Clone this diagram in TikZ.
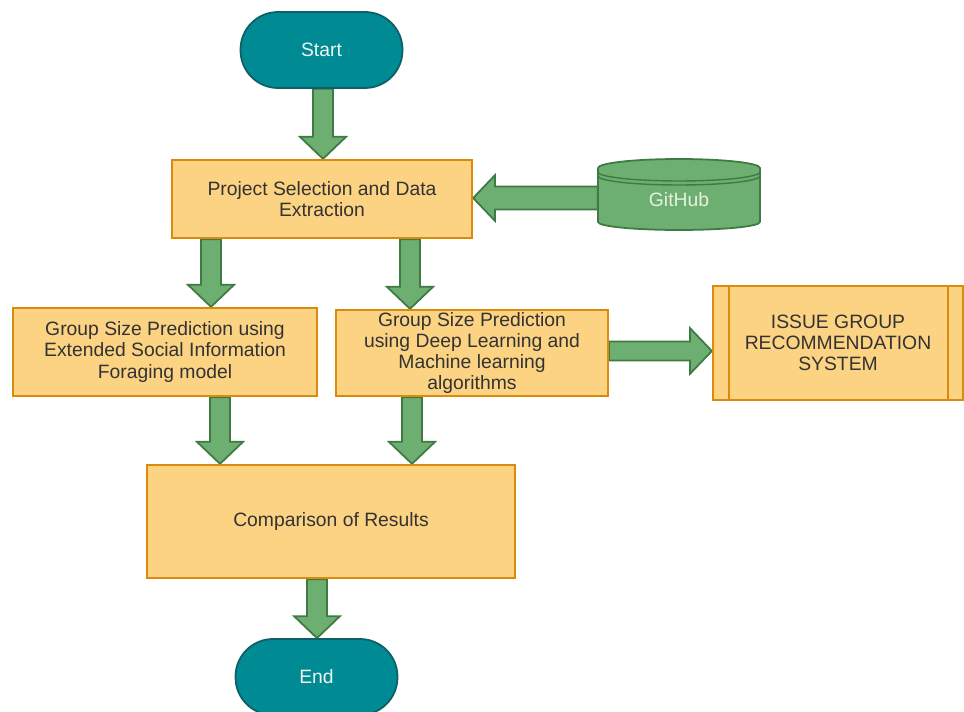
\documentclass[tikz,border=0pt]{standalone}
\usepackage{fontspec}
\setmainfont{Liberation Sans}
\usetikzlibrary{calc}
\definecolor{termfill}{HTML}{008A94}
\definecolor{termline}{HTML}{0E5F66}
\definecolor{termtext}{HTML}{F2F6F6}
\definecolor{boxfill}{HTML}{FCD283}
\definecolor{boxline}{HTML}{DA8B0C}
\definecolor{boxtext}{HTML}{333333}
\definecolor{arfill}{HTML}{6DAE71}
\definecolor{arline}{HTML}{3E7B44}
\definecolor{gittext}{HTML}{E8F1E0}
\pgfdeclarelayer{bg}
\pgfsetlayers{bg,main}
\def\arSW{0.2cm}
\def\arHW{0.46cm}
\def\arHL{0.44cm}
% vertical fat arrow: x (px), from anchor, to anchor (pointing down)
\newcommand\fatV[3]{%
  \draw[fatarrow] let \p1=(#2), \p2=(#3), \p3=(#1,0) in
    (\x3-\arSW,\y1) -- (\x3-\arSW,\y2+\arHL) -- (\x3-\arHW,\y2+\arHL) --
    (\x3,\y2) -- (\x3+\arHW,\y2+\arHL) -- (\x3+\arSW,\y2+\arHL) --
    (\x3+\arSW,\y1) -- cycle;}
% horizontal fat arrow: y (px), from anchor, to anchor, sign (+ points left, - points right)
\newcommand\fatH[5]{%
  \draw[fatarrow] let \p1=(#2), \p2=(#3), \p3=(0,#1) in
    (\x1,\y3+#5) -- (\x2#4\arHL,\y3+#5) -- (\x2#4\arHL,\y3+\arHW) --
    (\x2,\y3) -- (\x2#4\arHL,\y3-\arHW) -- (\x2#4\arHL,\y3-#5) --
    (\x1,\y3-#5) -- cycle;}
\begin{document}
\begin{tikzpicture}[x=0.02cm,y=-0.02cm,
  txt/.style={font=\fontsize{11}{12}\selectfont, align=center},
  box/.style={txt, draw=boxline, fill=boxfill, line width=1.3pt, text=boxtext, inner sep=0pt},
  term/.style={txt, draw=termline, fill=termfill, line width=1pt, rounded corners=0.75cm,
    text=termtext, minimum width=3.24cm, minimum height=1.52cm, inner sep=0pt},
  fatarrow/.style={draw=arline, fill=arfill, line width=1pt, line join=miter}]
\useasboundingbox (0,0) rectangle (964,712);

\node[term] (start) at (321.5,50) {Start};
\node[box, minimum width=6cm, minimum height=1.56cm] (proj) at (322,199)
  {Project Selection and Data\\Extraction};

% GitHub cylinder
\node[txt, text=gittext, minimum width=3.24cm, minimum height=1.44cm, inner sep=0pt] (git) at (679,196) {};
\fill[arfill] (598,168) -- (598,222) arc[start angle=180,end angle=360,x radius=1.62cm,y radius=0.16cm]
  -- (760,168) arc[start angle=0,end angle=180,x radius=1.62cm,y radius=0.18cm] -- cycle;
\draw[arline, line width=1pt] (598,168) -- (598,222) arc[start angle=180,end angle=360,x radius=1.62cm,y radius=0.16cm]
  -- (760,168) arc[start angle=0,end angle=180,x radius=1.62cm,y radius=0.18cm];
\draw[arline, line width=0.8pt] (598,172) arc[start angle=180,end angle=360,x radius=1.62cm,y radius=0.18cm];
\draw[arline, line width=0.8pt] (598,176) arc[start angle=180,end angle=360,x radius=1.62cm,y radius=0.18cm];
\node[txt, text=gittext] at (679,200) {GitHub};

\node[box, minimum width=6.08cm, minimum height=1.76cm] (grp1) at (165,352)
  {Group Size Prediction using\\Extended Social Information\\Foraging model};
\node[box, minimum width=5.44cm, minimum height=1.72cm] (grp2) at (472,353)
  {Group Size Prediction\\using Deep Learning and\\Machine learning\\algorithms};
\node[box, minimum width=5.0cm, minimum height=2.28cm] (issue) at (838,343)
  {ISSUE GROUP\\RECOMMENDATION\\SYSTEM};
\draw[boxline, line width=1.3pt] ([xshift=0.34cm]issue.north west) -- ([xshift=0.34cm]issue.south west);
\draw[boxline, line width=1.3pt] ([xshift=-0.32cm]issue.north east) -- ([xshift=-0.32cm]issue.south east);
\node[box, minimum width=7.36cm, minimum height=2.26cm] (comp) at (331,521.5)
  {Comparison of Results};
\node[term] (end) at (316.5,677) {End};

\begin{pgfonlayer}{bg}
\fatV{323}{start.south}{proj.north}
\fatH{198}{git.west}{proj.east}{+}{0.23cm}
\fatV{211}{proj.south}{grp1.north}
\fatV{410}{proj.south}{grp2.north}
\fatH{351}{grp2.east}{issue.west}{-}{0.19cm}
\fatV{220}{grp1.south}{comp.north}
\fatV{412}{grp2.south}{comp.north}
\fatV{317}{comp.south}{end.north}
\end{pgfonlayer}
\end{tikzpicture}
\end{document}
